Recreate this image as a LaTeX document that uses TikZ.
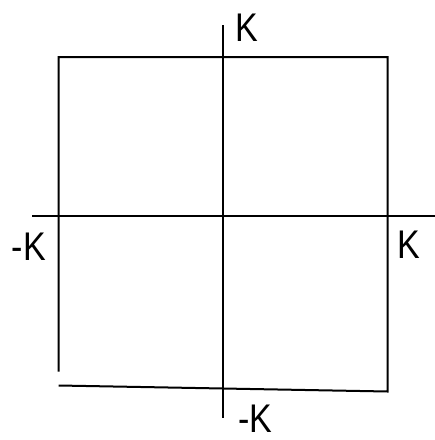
\documentclass[tikz,border=0pt]{standalone}
\usepackage{fontspec}
\setmainfont{Liberation Sans}
\begin{document}
\begin{tikzpicture}[x=1pt,y=-1pt,
  pen/.style={line width=2pt,black},
  lbl/.style={font=\fontsize{40}{40}\selectfont,inner sep=0pt,xscale=0.85}]
\useasboundingbox (0,0) rectangle (435,440);
% corners
\coordinate (tl) at (58.7,57);
\coordinate (tr) at (387.5,57);
\coordinate (br) at (387.5,391.5);
\coordinate (bl) at (58.7,385.5);
\coordinate (lend) at (58.7,371.5);
% axes ends
\coordinate (xl) at (32,216);
\coordinate (xr) at (435,216);
\coordinate (yt) at (223.3,25);
\coordinate (yb) at (223.3,418);
% square
\draw[pen] (lend) -- (tl) -- (tr) -- (br) -- (bl);
% axes
\draw[pen] (xl) -- (xr);
\draw[pen] (yt) -- (yb);
% labels
\node[lbl] (ktop) at (247,28) {K};
\node[lbl] (kleft) at (29,247) {-K};
\node[lbl] (kright) at (409,245) {K};
\node[lbl] (kbot) at (255,419) {-K};
\end{tikzpicture}
\end{document}
